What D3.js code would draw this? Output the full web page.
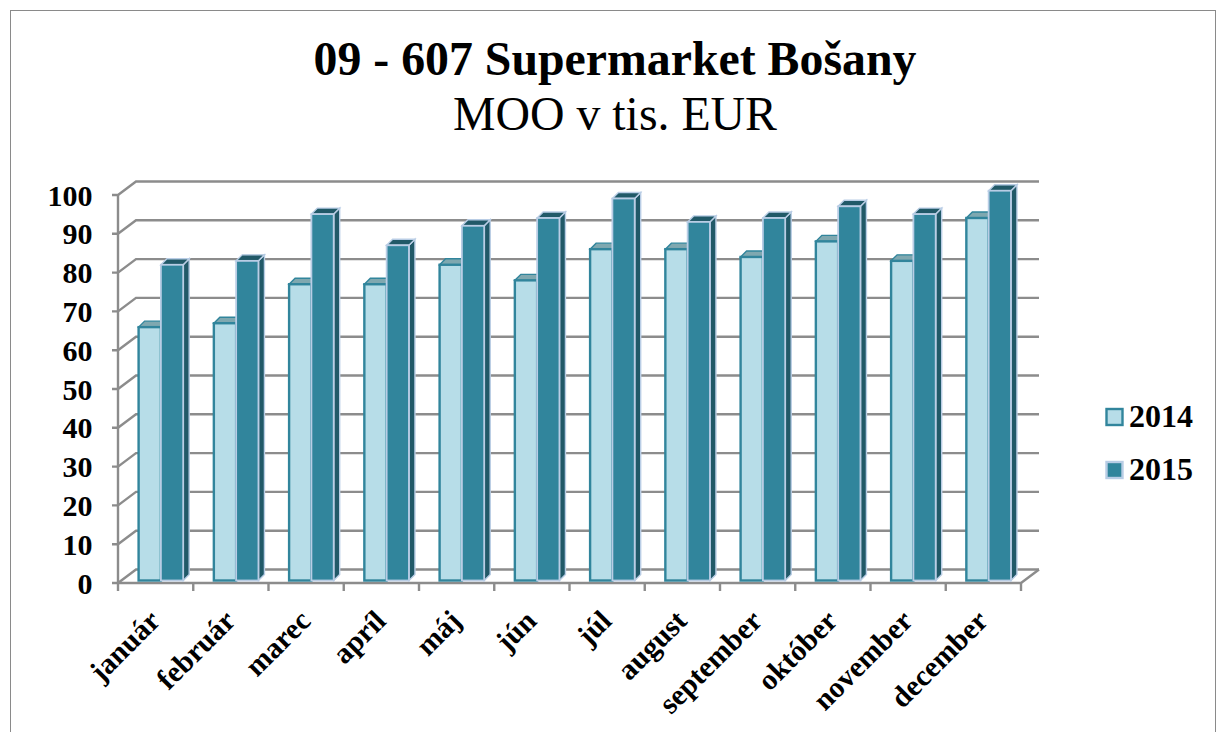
<!DOCTYPE html>
<html><head><meta charset="utf-8">
<script src="https://cdn.jsdelivr.net/npm/d3@7"></script>
<style>html,body{margin:0;padding:0;background:#fff}svg{display:block}text{font-family:"Liberation Serif",serif}</style>
</head><body><svg id="c" width="1226" height="732"></svg>
<script>
const months=["január","február","marec","apríl","máj","jún","júl","august","september","október","november","december"];
const series=["2014","2015"];
const v2014=[65,66,76,76,81,77,85,85,83,87,82,93];
const v2015=[81,82,94,86,91,93,98,92,93,96,94,100];
const yTicks=[0,10,20,30,40,50,60,70,80,90,100];
const svg=d3.select("#c");
svg.append("rect").attr("x",10.5).attr("y",10.5).attr("width",1205).attr("height",740).attr("fill","#fff").attr("stroke","#8a8a8a").attr("stroke-width",1);
svg.append("text").attr("x",615).attr("y",75).attr("text-anchor","middle").attr("font-size",47.8).attr("font-weight","bold").text("09 - 607 Supermarket Bošany");
svg.append("text").attr("x",615).attr("y",130).attr("text-anchor","middle").attr("font-size",47.8).text("MOO v tis. EUR");
const x=d3.scaleBand().domain(months).range([118,1021]);
const y=d3.scaleLinear().domain([0,100]).range([583,195]);
const yBar=d3.scaleLinear().domain([0,100]).range([580.5,190.7]);
const dx=18,dy=-13.5,grid="#8c8c8c";
const g=svg.append("g").attr("fill","none").attr("stroke",grid).attr("stroke-width",2.4);
yTicks.forEach(t=>{
  const Y=y(t);
  g.append("path").attr("d",`M112,${Y}H118L${118+dx},${Y+dy}H1039`);
});
g.append("path").attr("d",`M118,${y(100)}V${y(0)}`);
g.append("path").attr("d",`M118,${y(0)}H1021L1039,${y(0)+dy}`);
months.concat([""]).forEach((m,i)=>{
  const X=118+i*x.bandwidth();
  g.append("path").attr("d",`M${X},${y(0)}V${y(0)+8}`);
});
const bw=22.3,off=20.6,d=6,dh=-6;
const styles=[{f:"#b7dde8",s:"#31859c",side:"#2e8099",top:"#7fa8b0",w:2.4},
              {f:"#31859c",s:"#b9cde5",side:"#215968",top:"#215968",w:1.8}];
[v2014,v2015].forEach((vals,si)=>{
  const st=styles[si];
  const bars=svg.append("g").attr("class","s"+si);
  vals.forEach((v,i)=>{
    const bx=x(months[i])+off+si*bw,by=yBar(v),base=yBar(0);
    bars.append("path").attr("d",`M${bx+bw},${by}l${d},${dh}V${base+dh}l${-d},${-dh}Z`).attr("fill",st.side).attr("stroke",st.s).attr("stroke-width",1.4);
    bars.append("path").attr("d",`M${bx},${by}l${d},${dh}h${bw}l${-d},${-dh}Z`).attr("fill",st.top).attr("stroke",st.s).attr("stroke-width",1.4);
    bars.append("rect").attr("x",bx).attr("y",by).attr("width",bw).attr("height",base-by).attr("fill",st.f).attr("stroke",st.s).attr("stroke-width",st.w);
  });
});
yTicks.forEach(t=>{
  svg.append("text").attr("x",92.5).attr("y",y(t)+10.5).attr("text-anchor","end").attr("font-size",30).attr("font-weight","bold").text(t);
});
months.forEach(m=>{
  const X=x(m)+x.bandwidth()/2-8.5,Y=608;
  svg.append("text").attr("transform",`translate(${X},${Y}) rotate(-45)`).attr("text-anchor","end").attr("font-size",29.5).attr("font-weight","bold").attr("dy","0.7em").text(m);
});
series.forEach((s,i)=>{
  const st=styles[i],Y=417+i*53;
  svg.append("rect").attr("x",1106.5).attr("y",Y-8).attr("width",16).attr("height",16).attr("fill",st.f).attr("stroke",st.s).attr("stroke-width",2.4);
  svg.append("text").attr("x",1129).attr("y",Y+10).attr("font-size",32).attr("font-weight","bold").text(s);
});
</script></body></html>
